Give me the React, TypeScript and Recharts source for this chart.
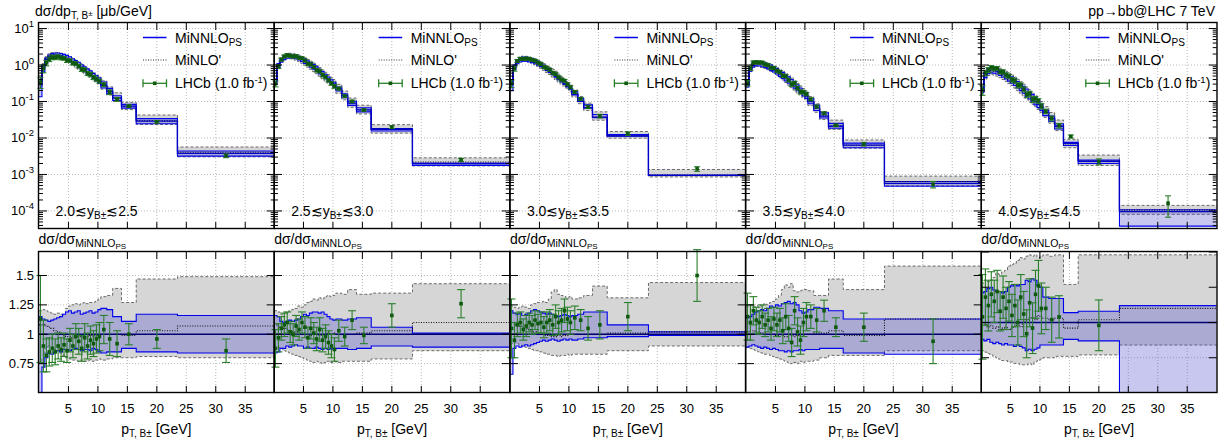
import React from 'react';
import { ComposedChart, Area, Line, Scatter, ErrorBar, XAxis, YAxis, CartesianGrid } from 'recharts';

// ---------------- data ----------------
const PT_EDGES = [0, 0.5, 1, 1.5, 2, 2.5, 3, 3.5, 4, 4.5, 5, 5.5, 6, 6.5, 7, 7.5, 8, 8.5, 9, 9.5, 10, 10.5, 11.5, 12.5, 14, 16.5, 23.5, 40];
const Y_BIN_LABELS = [['2.0', '2.5'], ['2.5', '3.0'], ['3.0', '3.5'], ['3.5', '4.0'], ['4.0', '4.5']];
const X_TICKS = [5, 10, 15, 20, 25, 30, 35];
const LOG_MAJOR = [1e-4, 1e-3, 1e-2, 1e-1, 1, 10];
const RATIO_TICKS = [0.75, 1, 1.25, 1.5];

// MiNNLO_PS central prediction, dsigma/dpT [ub/GeV], per rapidity bin
const MINNLO_Y20 = [0.3, 0.9, 1.4, 1.7, 1.85, 1.9, 1.88, 1.8, 1.68, 1.55, 1.4, 1.26, 1.12, 0.99, 0.87, 0.76, 0.66, 0.58, 0.5, 0.43, 0.37, 0.28, 0.19, 0.125, 0.075, 0.029, 0.0038];
const MINNLO_Y25 = [0.35, 0.95, 1.35, 1.6, 1.72, 1.76, 1.72, 1.64, 1.53, 1.4, 1.26, 1.12, 0.99, 0.87, 0.75, 0.65, 0.56, 0.48, 0.41, 0.35, 0.3, 0.22, 0.145, 0.09, 0.059, 0.0172, 0.002];
const MINNLO_Y30 = [0.3, 0.85, 1.2, 1.36, 1.42, 1.41, 1.36, 1.28, 1.18, 1.07, 0.96, 0.85, 0.75, 0.66, 0.57, 0.49, 0.42, 0.36, 0.31, 0.265, 0.225, 0.16, 0.105, 0.068, 0.037, 0.0115, 0.00095];
const MINNLO_Y35 = [0.28, 0.75, 0.98, 1.06, 1.06, 1.02, 0.96, 0.89, 0.81, 0.73, 0.65, 0.57, 0.5, 0.43, 0.37, 0.32, 0.27, 0.23, 0.195, 0.165, 0.14, 0.1, 0.065, 0.04, 0.021, 0.0064, 0.00057];
const MINNLO_Y40 = [0.2, 0.52, 0.66, 0.71, 0.7, 0.66, 0.61, 0.55, 0.49, 0.43, 0.38, 0.33, 0.28, 0.24, 0.205, 0.17, 0.145, 0.12, 0.1, 0.083, 0.068, 0.049, 0.034, 0.021, 0.0071, 0.0023, 0.000096];
const MINNLO = [MINNLO_Y20, MINNLO_Y25, MINNLO_Y30, MINNLO_Y35, MINNLO_Y40];

// MiNNLO_PS uncertainty band, ratio to central
const NNLO_HI = [
  [1.15, 1.13, 1.12, 1.11, 1.12, 1.13, 1.14, 1.15, 1.17, 1.19, 1.2, 1.18, 1.19, 1.2, 1.17, 1.18, 1.19, 1.2, 1.18, 1.19, 1.21, 1.22, 1.21, 1.15, 1.11, 1.17, 1.16],
  [1.16, 1.15, 1.11, 1.1, 1.11, 1.12, 1.11, 1.12, 1.13, 1.15, 1.17, 1.16, 1.18, 1.19, 1.19, 1.18, 1.19, 1.17, 1.15, 1.13, 1.12, 1.13, 1.12, 1.13, 1.14, 1.06, 1.01],
  [1.2, 1.18, 1.17, 1.18, 1.16, 1.17, 1.18, 1.2, 1.21, 1.2, 1.19, 1.18, 1.17, 1.18, 1.17, 1.16, 1.15, 1.16, 1.17, 1.16, 1.15, 1.16, 1.17, 1.19, 1.19, 1.08, 1.02],
  [1.14, 1.15, 1.17, 1.19, 1.2, 1.21, 1.2, 1.22, 1.24, 1.23, 1.25, 1.24, 1.26, 1.27, 1.28, 1.26, 1.27, 1.25, 1.2, 1.18, 1.19, 1.21, 1.23, 1.22, 1.2, 1.13, 1.13],
  [1.21, 1.22, 1.24, 1.25, 1.23, 1.22, 1.22, 1.21, 1.22, 1.25, 1.26, 1.27, 1.26, 1.27, 1.27, 1.3, 1.29, 1.31, 1.3, 1.26, 1.25, 1.18, 1.17, 1.17, 1.07, 1.08, 1.12],
];
const NNLO_LO = [
  [0.45, 0.72, 0.8, 0.84, 0.83, 0.85, 0.86, 0.85, 0.87, 0.87, 0.86, 0.87, 0.88, 0.87, 0.86, 0.87, 0.87, 0.86, 0.88, 0.87, 0.85, 0.84, 0.85, 0.85, 0.88, 0.85, 0.84],
  [0.84, 0.85, 0.88, 0.88, 0.9, 0.89, 0.9, 0.91, 0.9, 0.9, 0.88, 0.89, 0.88, 0.88, 0.89, 0.88, 0.87, 0.88, 0.87, 0.88, 0.87, 0.88, 0.88, 0.87, 0.88, 0.9, 0.89],
  [0.66, 0.88, 0.9, 0.89, 0.9, 0.91, 0.9, 0.91, 0.92, 0.93, 0.94, 0.95, 0.94, 0.95, 0.96, 0.95, 0.94, 0.95, 0.96, 0.95, 0.96, 0.95, 0.96, 0.97, 0.97, 0.98, 0.99],
  [0.89, 0.9, 0.91, 0.9, 0.89, 0.88, 0.89, 0.88, 0.87, 0.88, 0.87, 0.86, 0.86, 0.85, 0.86, 0.85, 0.86, 0.86, 0.87, 0.86, 0.87, 0.87, 0.87, 0.88, 0.88, 0.84, 0.83],
  [0.88, 0.87, 0.88, 0.86, 0.85, 0.86, 0.85, 0.84, 0.85, 0.84, 0.84, 0.83, 0.84, 0.83, 0.82, 0.8, 0.81, 0.8, 0.81, 0.82, 0.84, 0.84, 0.84, 0.84, 0.88, 0.87, 0.4],
];

// MiNLO' central and band, ratio to MiNNLO_PS central
const NLO_C = [
  [1.08, 1.08, 1.07, 1.06, 1.05, 1.03, 1.02, 1.0, 0.99, 0.98, 0.98, 0.97, 0.98, 0.98, 0.97, 0.98, 0.98, 0.99, 0.98, 0.99, 0.99, 1.0, 1.0, 1.0, 0.99, 1.03, 1.07],
  [1.08, 1.07, 1.06, 1.05, 1.04, 1.03, 1.02, 1.02, 1.01, 1.0, 1.0, 1.0, 0.99, 1.0, 1.0, 0.99, 1.0, 1.0, 1.01, 1.0, 1.01, 1.0, 1.0, 1.0, 1.01, 1.03, 1.1],
  [1.1, 1.09, 1.08, 1.07, 1.06, 1.05, 1.04, 1.03, 1.02, 1.01, 1.0, 1.0, 0.99, 0.99, 0.98, 0.98, 0.99, 0.98, 0.99, 0.99, 1.0, 1.0, 1.0, 1.0, 1.0, 1.01, 1.02],
  [1.02, 1.03, 1.03, 1.02, 1.02, 1.01, 1.01, 1.0, 1.0, 1.0, 0.99, 1.0, 0.99, 0.98, 1.0, 0.99, 0.98, 0.99, 1.0, 0.99, 1.0, 1.0, 1.01, 1.01, 1.03, 0.99, 1.13],
  [0.98, 0.99, 0.97, 0.98, 0.96, 0.97, 0.95, 0.96, 0.97, 0.95, 0.96, 0.97, 0.98, 0.97, 1.0, 1.02, 1.03, 1.04, 1.02, 1.05, 1.04, 1.03, 1.02, 1.03, 0.96, 1.02, 1.1],
];
const NLO_HI = [
  [1.2, 1.21, 1.2, 1.19, 1.18, 1.17, 1.18, 1.17, 1.17, 1.22, 1.24, 1.25, 1.26, 1.25, 1.26, 1.27, 1.26, 1.27, 1.27, 1.28, 1.3, 1.32, 1.33, 1.39, 1.27, 1.47, 1.49],
  [1.2, 1.19, 1.17, 1.18, 1.19, 1.2, 1.21, 1.22, 1.24, 1.23, 1.25, 1.27, 1.28, 1.3, 1.29, 1.31, 1.3, 1.32, 1.33, 1.32, 1.33, 1.35, 1.34, 1.38, 1.34, 1.35, 1.43],
  [1.24, 1.23, 1.22, 1.23, 1.24, 1.23, 1.22, 1.25, 1.26, 1.27, 1.27, 1.28, 1.27, 1.3, 1.36, 1.38, 1.34, 1.33, 1.32, 1.31, 1.32, 1.3, 1.31, 1.33, 1.41, 1.31, 1.44],
  [1.24, 1.25, 1.24, 1.23, 1.25, 1.24, 1.26, 1.25, 1.27, 1.28, 1.3, 1.33, 1.38, 1.42, 1.4, 1.43, 1.37, 1.36, 1.37, 1.38, 1.38, 1.37, 1.33, 1.33, 1.47, 1.38, 1.58],
  [1.28, 1.3, 1.29, 1.3, 1.32, 1.35, 1.34, 1.36, 1.37, 1.4, 1.41, 1.42, 1.44, 1.46, 1.45, 1.47, 1.48, 1.47, 1.48, 1.46, 1.47, 1.48, 1.47, 1.48, 1.27, 1.48, 1.48],
];
const NLO_LO = [
  [0.75, 0.8, 0.88, 0.9, 0.89, 0.87, 0.86, 0.84, 0.82, 0.8, 0.79, 0.78, 0.78, 0.77, 0.78, 0.77, 0.77, 0.78, 0.77, 0.78, 0.79, 0.78, 0.79, 0.8, 0.8, 0.81, 0.8],
  [0.88, 0.89, 0.88, 0.86, 0.85, 0.84, 0.83, 0.82, 0.81, 0.8, 0.79, 0.78, 0.77, 0.76, 0.77, 0.76, 0.75, 0.76, 0.77, 0.76, 0.77, 0.76, 0.77, 0.77, 0.77, 0.79, 0.86],
  [0.92, 0.93, 0.92, 0.91, 0.9, 0.89, 0.88, 0.87, 0.86, 0.86, 0.85, 0.84, 0.83, 0.83, 0.82, 0.82, 0.81, 0.82, 0.82, 0.83, 0.82, 0.83, 0.83, 0.83, 0.83, 0.86, 0.9],
  [0.89, 0.88, 0.87, 0.86, 0.85, 0.84, 0.83, 0.83, 0.82, 0.81, 0.8, 0.79, 0.78, 0.77, 0.76, 0.75, 0.76, 0.75, 0.77, 0.76, 0.77, 0.77, 0.78, 0.8, 0.82, 0.82, 0.86],
  [0.8, 0.79, 0.78, 0.77, 0.76, 0.75, 0.74, 0.73, 0.73, 0.72, 0.72, 0.71, 0.71, 0.7, 0.7, 0.7, 0.71, 0.7, 0.72, 0.73, 0.74, 0.75, 0.75, 0.76, 0.76, 0.77, 0.84],
];

// LHCb data, ratio to MiNNLO_PS central, and its uncertainty
const LHCB_R = [
  [1.13, 0.9, 0.82, 0.85, 0.88, 0.85, 0.9, 0.87, 0.91, 0.86, 0.95, 0.9, 0.98, 0.94, 0.88, 0.97, 0.9, 0.95, 0.92, 0.96, 0.98, 1.04, 0.96, 0.92, 1.0, 0.96, 0.86],
  [0.88, 0.97, 1.05, 1.08, 1.1, 1.02, 1.0, 1.07, 1.04, 1.1, 1.06, 0.97, 1.05, 1.01, 0.96, 1.04, 0.95, 0.98, 0.93, 0.9, 0.87, 1.03, 0.98, 1.12, 0.99, 1.16, 1.26],
  [1.05, 0.95, 1.08, 1.1, 1.04, 1.07, 1.1, 1.08, 1.12, 1.09, 1.1, 1.06, 1.1, 1.12, 1.08, 1.15, 1.1, 1.12, 1.2, 1.13, 1.1, 1.14, 1.12, 1.05, 1.08, 1.15, 1.5],
  [1.15, 1.1, 1.2, 1.12, 1.1, 1.15, 1.08, 1.12, 1.05, 1.13, 1.08, 1.12, 1.03, 1.15, 1.05, 0.93, 1.2, 1.02, 0.95, 1.1, 1.15, 1.15, 1.12, 1.2, 1.06, 1.06, 0.94],
  [1.04, 1.18, 1.12, 1.2, 1.15, 1.22, 1.08, 1.18, 1.1, 1.15, 1.05, 1.12, 1.0, 1.18, 1.06, 0.92, 1.14, 0.96, 1.2, 1.26, 1.1, 1.1, 1.02, 1.04, 1.55, 0.98, 1.7],
];
const LHCB_E = [
  [0.37, 0.22, 0.14, 0.12, 0.12, 0.11, 0.11, 0.1, 0.1, 0.1, 0.1, 0.1, 0.11, 0.11, 0.11, 0.12, 0.11, 0.12, 0.11, 0.12, 0.12, 0.12, 0.14, 0.11, 0.09, 0.08, 0.1],
  [0.16, 0.12, 0.1, 0.1, 0.09, 0.09, 0.09, 0.09, 0.09, 0.09, 0.09, 0.09, 0.09, 0.09, 0.1, 0.1, 0.1, 0.1, 0.1, 0.1, 0.1, 0.09, 0.08, 0.08, 0.07, 0.1, 0.12],
  [0.25, 0.15, 0.1, 0.09, 0.09, 0.09, 0.08, 0.08, 0.08, 0.08, 0.09, 0.09, 0.09, 0.09, 0.09, 0.1, 0.1, 0.1, 0.1, 0.1, 0.1, 0.1, 0.09, 0.1, 0.12, 0.12, 0.22],
  [0.2, 0.15, 0.12, 0.11, 0.1, 0.1, 0.1, 0.1, 0.1, 0.1, 0.1, 0.1, 0.11, 0.11, 0.11, 0.12, 0.12, 0.12, 0.12, 0.12, 0.12, 0.1, 0.1, 0.09, 0.08, 0.12, 0.19],
  [0.3, 0.2, 0.18, 0.16, 0.15, 0.15, 0.14, 0.15, 0.15, 0.14, 0.15, 0.15, 0.16, 0.16, 0.16, 0.17, 0.17, 0.18, 0.17, 0.18, 0.18, 0.15, 0.16, 0.15, 0.15, 0.18, 1.0],
];

// ---------------- layout & style ----------------
const FONT = '"Liberation Sans", Arial, Helvetica, sans-serif';
const X0 = 38.5;
const PW = 235.7;
const TOP_Y = 22.5;
const TOP_H = 206;
const BOT_Y = 251.5;
const BOT_H = 141;
const YW = 40;
const MT_TOP = 14;
const MT_BOT = 6;
const MR = 3;
const LOG_DOMAIN: [number, number] = [3.2e-5, 14.2];
const RATIO_DOMAINS: [number, number][] = [[0.5, 1.7], [0.5, 1.7], [0.5, 1.7], [0.5, 1.7], [0.5, 1.5]];

const BLUE = '#0000ee';
const GREEN = '#2a7f2a';
const GREEN_DARK = '#0f5a0f';

const LOG_TICKS: number[] = [];
for (let e = -5; e <= 1; e++) {
  for (let m = 1; m <= 9; m++) {
    const v = m * Math.pow(10, e);
    if (v >= LOG_DOMAIN[0] && v <= LOG_DOMAIN[1]) LOG_TICKS.push(v);
  }
}

const makeLogTick = (showLabel: boolean) => (props: any) => {
  const { x, y, payload } = props;
  const v = payload.value as number;
  const e = Math.log10(v);
  const major = Math.abs(e - Math.round(e)) < 1e-6;
  const len = major ? 8 : 4;
  return (
    <g>
      <line x1={x} y1={y} x2={x + len} y2={y} stroke="#000" strokeWidth={1} />
      <line x1={x + PW} y1={y} x2={x + PW - len} y2={y} stroke="#000" strokeWidth={1} />
      {showLabel && major && (
        <text x={x - 5} y={y + 4.5} textAnchor="end" fontFamily={FONT} fontSize={13} fill="#000">
          10<tspan dy={-6} fontSize={9.5}>{String(Math.round(e))}</tspan>
        </text>
      )}
    </g>
  );
};

const makeRatioTick = (showLabel: boolean) => (props: any) => {
  const { x, y, payload } = props;
  return (
    <g>
      <line x1={x} y1={y} x2={x + 8} y2={y} stroke="#000" strokeWidth={1} />
      <line x1={x + PW} y1={y} x2={x + PW - 8} y2={y} stroke="#000" strokeWidth={1} />
      {showLabel && (
        <text x={x - 5} y={y + 4.5} textAnchor="end" fontFamily={FONT} fontSize={13} fill="#000">
          {String(payload.value)}
        </text>
      )}
    </g>
  );
};

const makeXTick = (h: number, showLabel: boolean) => (props: any) => {
  const { x, y, payload } = props;
  return (
    <g>
      <line x1={x} y1={y} x2={x} y2={y - 7} stroke="#000" strokeWidth={1} />
      <line x1={x} y1={y - h} x2={x} y2={y - h + 7} stroke="#000" strokeWidth={1} />
      {showLabel && (
        <text x={x} y={y + 20} textAnchor="middle" fontFamily={FONT} fontSize={13} fill="#000">
          {String(payload.value)}
        </text>
      )}
    </g>
  );
};

const marker = (props: any) => {
  const { cx, cy } = props;
  if (cx == null || cy == null || !isFinite(cx) || !isFinite(cy)) return <g />;
  return <rect x={cx - 1.8} y={cy - 1.8} width={3.6} height={3.6} fill={GREEN_DARK} />;
};

const NB = PT_EDGES.length - 1;

function buildStep(i: number, top: boolean) {
  return PT_EDGES.map((x, k) => {
    const b = Math.min(k, NB - 1);
    const c = top ? MINNLO[i][b] : 1;
    return {
      x,
      nnlo: c,
      nnloBand: [c * NNLO_LO[i][b], c * NNLO_HI[i][b]],
      nlo: c * NLO_C[i][b],
      nloBand: [c * NLO_LO[i][b], c * NLO_HI[i][b]],
    };
  });
}

function buildPoints(i: number, top: boolean) {
  const all = MINNLO[i].map((c0, b) => {
    const c = top ? c0 : 1;
    return {
      x: (PT_EDGES[b] + PT_EDGES[b + 1]) / 2,
      y: c * LHCB_R[i][b],
      err: c * LHCB_E[i][b],
    };
  });
  if (top) return all;
  // points whose central value lies outside the ratio range are not drawn
  const [lo, hi] = RATIO_DOMAINS[i];
  return all.filter((p) => p.y >= lo && p.y <= hi);
}

function Panel({ i, top }: { i: number; top: boolean }) {
  const h = top ? TOP_H : BOT_H;
  const xh = top ? 1 : 28;
  const mt = top ? MT_TOP : MT_BOT;
  const step = buildStep(i, top);
  const pts = buildPoints(i, top);
  const left = X0 + i * PW - YW;
  const ytop = (top ? TOP_Y : BOT_Y) - mt;
  return (
    <div style={{ position: 'absolute', left, top: ytop }}>
      <ComposedChart
        width={YW + PW + MR}
        height={mt + h + xh}
        data={step}
        margin={{ top: mt, right: MR, bottom: 0, left: 0 }}
      >
        <XAxis
          dataKey="x"
          type="number"
          domain={[0, 40]}
          allowDataOverflow
          ticks={X_TICKS}
          interval={0}
          height={xh}
          tickSize={0}
          tickMargin={0}
          axisLine={false}
          tickLine={false}
          tick={makeXTick(h, !top)}
        />
        {top ? (
          <YAxis
            type="number"
            scale="log"
            domain={LOG_DOMAIN}
            allowDataOverflow
            ticks={LOG_TICKS}
            interval={0}
            width={YW}
            tickSize={0}
            tickMargin={0}
            axisLine={false}
            tickLine={false}
            tick={makeLogTick(i === 0)}
          />
        ) : (
          <YAxis
            type="number"
            domain={RATIO_DOMAINS[i]}
            allowDataOverflow
            ticks={RATIO_TICKS}
            interval={0}
            width={YW}
            tickSize={0}
            tickMargin={0}
            axisLine={false}
            tickLine={false}
            tick={makeRatioTick(i === 0)}
          />
        )}
        <CartesianGrid
          horizontalValues={top ? LOG_MAJOR : RATIO_TICKS}
          verticalValues={X_TICKS}
          stroke="#b8b8b8"
          strokeDasharray="1 2"
        />
        <Area
          dataKey="nloBand"
          type="stepAfter"
          fill="#d6d6d6"
          fillOpacity={1}
          stroke="#6a6a6a"
          strokeDasharray="3 2"
          strokeWidth={1}
          dot={false}
          activeDot={false}
          isAnimationActive={false}
        />
        <Area
          dataKey="nnloBand"
          type="stepAfter"
          fill="rgb(70,70,205)"
          fillOpacity={0.3}
          stroke={BLUE}
          strokeWidth={1.1}
          dot={false}
          activeDot={false}
          isAnimationActive={false}
        />
        <Line
          dataKey="nlo"
          type="stepAfter"
          stroke="#111"
          strokeWidth={1.1}
          strokeDasharray="1 1.5"
          dot={false}
          activeDot={false}
          isAnimationActive={false}
        />
        <Line
          dataKey="nnlo"
          type="stepAfter"
          stroke={top ? '#0000c8' : '#000070'}
          strokeWidth={1.3}
          dot={false}
          activeDot={false}
          isAnimationActive={false}
        />
        <Scatter data={pts} dataKey="y" fill={GREEN_DARK} shape={marker} isAnimationActive={false}>
          <ErrorBar dataKey="err" direction="y" width={top ? 3 : 4} stroke={GREEN} strokeWidth={1.1} />
        </Scatter>
      </ComposedChart>
    </div>
  );
}

function Overlay() {
  const panels = [0, 1, 2, 3, 4];
  return (
    <svg
      width={1230}
      height={445}
      style={{ position: 'absolute', left: 0, top: 0, pointerEvents: 'none' }}
      fontFamily={FONT}
    >
      <text x={35} y={16} fontSize={14} fill="#000">
        dσ/dp<tspan fontSize={10} dy={3}>T, B</tspan>
        <tspan fontSize={8} dy={-3}>±</tspan>
        <tspan fontSize={14} dy={0}> [μb/GeV]</tspan>
      </text>
      <text x={1215} y={16} fontSize={14} textAnchor="end" fill="#000">
        pp→bb@LHC 7 TeV
      </text>
      {panels.map((i) => {
        const p = X0 + i * PW;
        const lx1 = p + 104.5;
        const lx2 = p + 128;
        const tx = p + 136.5;
        const r1 = 37.5;
        const r2 = 60;
        const r3 = 83.3;
        return (
          <g key={i}>
            <rect x={p} y={TOP_Y} width={PW} height={TOP_H} fill="none" stroke="#000" strokeWidth={1.4} />
            <rect x={p} y={BOT_Y} width={PW} height={BOT_H} fill="none" stroke="#000" strokeWidth={1.4} />
            {/* legend */}
            <line x1={lx1} y1={r1} x2={lx2} y2={r1} stroke={BLUE} strokeWidth={1.5} />
            <text x={tx} y={r1 + 5} fontSize={14} fill="#000">
              MiNNLO<tspan fontSize={10} dy={3}>PS</tspan>
            </text>
            <line x1={lx1} y1={r2} x2={lx2} y2={r2} stroke="#333" strokeWidth={1.2} strokeDasharray="1 1.5" />
            <text x={tx} y={r2 + 5} fontSize={14} fill="#000">
              MiNLO'
            </text>
            <line x1={lx1} y1={r3} x2={lx2} y2={r3} stroke={GREEN} strokeWidth={1.3} />
            <line x1={lx1} y1={r3 - 4} x2={lx1} y2={r3 + 4} stroke={GREEN} strokeWidth={1.3} />
            <line x1={lx2} y1={r3 - 4} x2={lx2} y2={r3 + 4} stroke={GREEN} strokeWidth={1.3} />
            <rect x={(lx1 + lx2) / 2 - 1.8} y={r3 - 1.8} width={3.6} height={3.6} fill={GREEN_DARK} />
            <text x={tx} y={r3 + 5} fontSize={14} fill="#000">
              LHCb (1.0 fb<tspan fontSize={9.5} dy={-5}>-1</tspan>
              <tspan fontSize={14} dy={5}>)</tspan>
            </text>
            {/* rapidity label */}
            <text x={p + 17} y={216} fontSize={14} fill="#000">
              {Y_BIN_LABELS[i][0]}≲y<tspan fontSize={10} dy={3}>B±</tspan>
              <tspan fontSize={14} dy={-3}>≲{Y_BIN_LABELS[i][1]}</tspan>
            </text>
            {/* ratio title */}
            <text x={p} y={244} fontSize={14} fill="#000">
              dσ/dσ<tspan fontSize={10.5} dy={3}>MiNNLO</tspan>
              <tspan fontSize={8} dy={2}>PS</tspan>
            </text>
            {/* x-axis title */}
            <text x={p + PW / 2} y={434} fontSize={14} textAnchor="middle" fill="#000">
              p<tspan fontSize={10} dy={3}>T, B±</tspan>
              <tspan fontSize={14} dy={-3}> [GeV]</tspan>
            </text>
          </g>
        );
      })}
    </svg>
  );
}

export default function App() {
  const panels = [0, 1, 2, 3, 4];
  return (
    <div style={{ position: 'absolute', left: 0, top: 0, width: 1230, height: 445, background: '#fff', overflow: 'hidden' }}>
      {panels.map((i) => (
        <Panel key={'t' + i} i={i} top={true} />
      ))}
      {panels.map((i) => (
        <Panel key={'b' + i} i={i} top={false} />
      ))}
      <Overlay />
    </div>
  );
}
